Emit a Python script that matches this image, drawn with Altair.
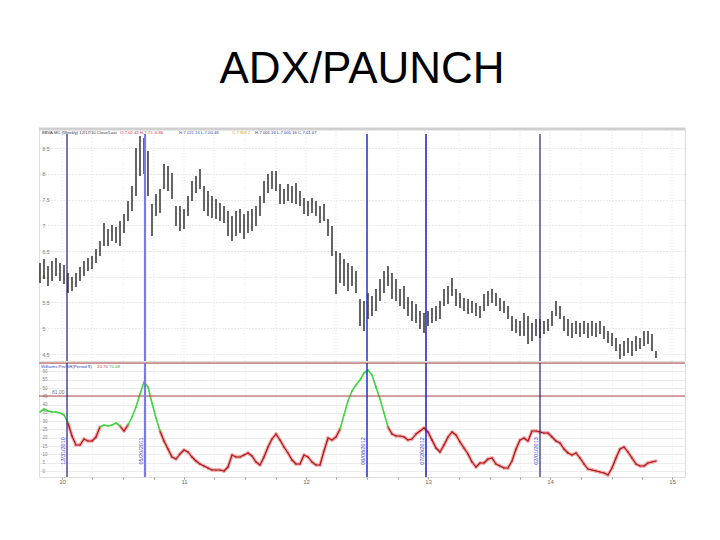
import altair as alt
import pandas as pd

# ---------------- data ----------------
# weekly bars, index 0..154 ; price in chart units
high = [91, 95, 88, 93, 96, 91, 89, 81, 77, 81, 87, 93, 96, 98, 105, 113, 131, 125, 129, 127,
        133, 140, 153, 168, 206, 218, 216, 203, 150, 160, 165, 190, 188, 181, 148, 148, 145, 158, 173, 178,
        185, 168, 163, 158, 155, 151, 148, 143, 138, 143, 145, 140, 143, 145, 148, 158, 173, 180, 183, 183,
        170, 165, 170, 168, 171, 163, 156, 153, 156, 153, 148, 150, 135, 128, 103, 101, 95, 91, 88, 83,
        55, 53, 61, 58, 65, 75, 83, 88, 81, 75, 65, 68, 57, 53, 50, 43, 41, 43, 46, 48,
        53, 65, 68, 76, 65, 61, 56, 55, 53, 51, 48, 60, 63, 65, 61, 56, 53, 48, 38, 35,
        33, 41, 38, 31, 35, 35, 33, 35, 43, 53, 48, 38, 35, 31, 33, 31, 33, 31, 33, 31,
        33, 28, 23, 21, 16, 10, 13, 16, 13, 18, 16, 23, 23, 20, 3]
low = [71, 75, 68, 73, 78, 73, 70, 61, 63, 67, 73, 78, 83, 85, 91, 98, 108, 108, 113, 111,
       108, 121, 133, 143, 158, 178, 180, 158, 118, 138, 141, 165, 163, 155, 128, 123, 125, 138, 153, 161,
       165, 143, 138, 136, 135, 133, 131, 118, 113, 118, 121, 115, 121, 123, 128, 138, 151, 161, 165, 163,
       150, 150, 153, 151, 150, 148, 140, 138, 141, 138, 131, 133, 118, 98, 60, 71, 68, 63, 68, 61,
       28, 23, 35, 38, 43, 53, 61, 68, 55, 53, 48, 45, 38, 33, 31, 25, 21, 28, 31, 33,
       35, 48, 50, 58, 48, 46, 43, 40, 41, 38, 36, 43, 48, 51, 48, 43, 41, 35, 23, 21,
       18, 18, 10, 13, 18, 16, 20, 23, 28, 38, 35, 23, 18, 16, 20, 17, 20, 16, 18, 17,
       20, 15, 11, 8, 3, -5, -2, 1, -2, 3, 5, 8, 10, 3, -4]
# indicator line (lower panel)
indicator = [65, 68, 66, 65, 65, 64, 62, 54, 41, 32, 32, 38, 36, 36, 40, 50, 52, 51, 52, 54,
             51, 46, 52, 60, 70, 83, 95, 90, 74, 59, 46, 36, 28, 20, 18, 23, 27, 25, 20, 16,
             13, 11, 9, 7, 7, 7, 6, 10, 22, 20, 20, 22, 24, 21, 15, 12, 20, 30, 38, 43,
             37, 30, 24, 17, 13, 13, 22, 20, 15, 12, 12, 26, 39, 37, 40, 48, 62, 76, 86, 92,
             97, 104, 107, 102, 90, 78, 64, 50, 43, 41, 41, 40, 37, 38, 43, 46, 49, 45, 37, 29,
             25, 32, 40, 45, 42, 35, 29, 23, 15, 10, 14, 14, 18, 19, 13, 11, 9, 9, 16, 28,
             37, 39, 36, 46, 46, 45, 44, 44, 40, 36, 34, 28, 24, 22, 24, 19, 13, 8, 7, 6,
             5, 4, 2, 9, 19, 28, 30, 25, 19, 13, 11, 11, 14, 15, 16]
threshold = 50

event_bars = [6.75, 26.25, 81.75, 96.5, 125]
event_colors = ["#1c1c80", "#7a7ae6", "#2a3fd0", "#2a2aba", "#22227a"]
event_widths = [1.2, 2.2, 1.6, 1.6, 1.2]
event_dates = ["12/31/2010", "05/20/2011", "06/08/2012", "07/20/2012", "02/01/2013"]

price_grid = [0, 25.75, 51.5, 77.25, 103, 128.75, 154.5, 180.25, 206]
price_labels = ["4.5", "5", "5.5", "6", "6.5", "7", "7.5", "8", "8.5"]

ind_grid = [6, 14.3, 22.6, 30.9, 39.2, 47.5, 55.8, 64.1, 72.4, 80.7, 89, 97.3, 105.6]
ind_labels = ["0", "5", "10", "15", "20", "25", "30", "35", "40", "45", "50", "55", "60"]
hlines = [81, 114]

x_ticks = [5.5, 13, 20.75, 28.5, 36, 43.5, 51.25, 59, 66.5, 74, 81.75, 89.5, 97,
           104.75, 112.5, 120, 127.5, 135.25, 143, 150.5, 158]
x_major = [5.5, 36, 66.5, 97, 127.5, 158]
x_major_labels = ["10", "11", "12", "13", "14", "15"]

top_header = ["BBVA.MC (Weekly) 12/17/10 Close/Last", "O-7.02.43  H-7.7  L-6.86",
              "H-7.021.16  L-7.00.48", "C-7.963.2", "H-7.001.16  L-7.001.16  C-7.01.07"]
top_header_colors = ["#333333", "#d03030", "#3050b0", "#e0a000", "#303080"]
low_header = ["Williams Pro%R(Period 9)", "20.70", "70.08"]
low_header_colors = ["#2a3fc0", "#d03030", "#40a040"]

# ---------------- tables ----------------
bars = pd.DataFrame({"i": range(len(high)), "high": high, "low": low})
n = len(indicator)
seg = pd.DataFrame({"i": list(range(n - 1)), "i2": list(range(1, n)),
                    "v": indicator[:-1], "v2": indicator[1:]})
seg["up"] = (seg["v"] + seg["v2"]) / 2 > threshold
seg_up = seg[seg["up"]]
seg_dn = seg[~seg["up"]]
events = pd.DataFrame({"i": event_bars, "c": event_colors, "w": event_widths, "d": event_dates})
hl = pd.DataFrame({"v": hlines})
gridx = pd.DataFrame({"i": x_ticks})
one = pd.DataFrame({"k": [0]})


def label_expr(vals, labels):
    return " : ".join(f"abs(datum.value - {v}) < 0.01 ? '{l}'" for v, l in zip(vals, labels)) + " : ''"


W = 646
FONT = "Liberation Sans"
xs = alt.Scale(domain=[-0.25, 161.25], nice=False, zero=False)
ys_top = alt.Scale(domain=[-7, 226], nice=False, zero=False)
ys_low = alt.Scale(domain=[0, 114], nice=False, zero=False)

ay_top = alt.Axis(values=price_grid, labelExpr=label_expr(price_grid, price_labels),
                  labelFontSize=5, labelColor="#777777", labelAlign="left", labelOverlap=False,
                  labelPadding=-3, ticks=False, domain=False, grid=True,
                  gridColor="#d4d4d4", gridDash=[1, 2], minExtent=0, title=None)
ax_low = alt.Axis(values=x_ticks, labelExpr=label_expr(x_major, x_major_labels),
                  labelFontSize=6, labelColor="#666666", tickSize=2, labelOverlap=False,
                  tickColor="#999999", domain=False, grid=True,
                  gridColor="#e8e8e8", gridDash=[1, 2], labelPadding=-1, title=None)
ay_low = alt.Axis(values=ind_grid, labelExpr=label_expr(ind_grid, ind_labels),
                  labelFontSize=4.5, labelColor="#888888", labelAlign="left", labelOverlap=False,
                  labelPadding=-3, ticks=False, domain=False, grid=True,
                  gridColor="#ececec", minExtent=0, title=None)

# ---------- top panel ----------
vgrid = alt.Chart(gridx).mark_rule(color="#e4e4e4", strokeDash=[1, 2]).encode(
    x=alt.X("i:Q", scale=xs, axis=None),
    y=alt.YDatum(-7, scale=ys_top, axis=ay_top), y2=alt.Y2Datum(226))
price_bars = alt.Chart(bars).mark_rule(color="#111111", strokeWidth=1.3).encode(
    x=alt.X("i:Q", scale=xs, axis=None),
    y=alt.Y("low:Q", scale=ys_top, axis=ay_top),
    y2="high:Q",
)
ev_top = alt.Chart(events).mark_rule().encode(
    x=alt.X("i:Q", scale=xs, axis=None),
    y=alt.YDatum(-7, scale=ys_top, axis=ay_top),
    y2=alt.Y2Datum(220),
    color=alt.Color("c:N", scale=None),
    strokeWidth=alt.StrokeWidth("w:Q", scale=None),
)
top_border = alt.Chart(one).mark_rule(color="#cfcfcf", strokeWidth=3).encode(
    x=alt.value(0), x2=alt.value(W), y=alt.value(1)
)
hdr_x = [3, 81, 140, 193, 216]
top_texts = [
    alt.Chart(one).mark_text(text=t, fontSize=4.2, font=FONT, align="left", baseline="middle", color=c)
    .encode(x=alt.value(px), y=alt.value(4.5))
    for t, c, px in zip(top_header, top_header_colors, hdr_x)
]
top = alt.layer(vgrid, price_bars, ev_top, top_border, *top_texts).properties(width=W, height=233)

# ---------- lower panel ----------
red_lines = alt.Chart(hl).mark_rule(color="#b04848", strokeWidth=1.2).encode(
    y=alt.Y("v:Q", scale=ys_low, axis=ay_low)
)
halo = alt.Chart(seg_dn).mark_rule(color="#f4a8a8", strokeWidth=3.5, strokeCap="round").encode(
    x=alt.X("i:Q", scale=xs, axis=ax_low), x2="i2:Q",
    y=alt.Y("v:Q", scale=ys_low, axis=ay_low), y2="v2:Q")
red_core = alt.Chart(seg_dn).mark_rule(color="#a81818", strokeWidth=1.2, strokeCap="round").encode(
    x=alt.X("i:Q", scale=xs, axis=ax_low), x2="i2:Q",
    y=alt.Y("v:Q", scale=ys_low, axis=ay_low), y2="v2:Q")
green = alt.Chart(seg_up).mark_rule(color="#3ed43e", strokeWidth=1.6, strokeCap="round").encode(
    x=alt.X("i:Q", scale=xs, axis=ax_low), x2="i2:Q",
    y=alt.Y("v:Q", scale=ys_low, axis=ay_low), y2="v2:Q")
ev_low = alt.Chart(events).mark_rule().encode(
    x=alt.X("i:Q", scale=xs, axis=ax_low),
    y=alt.YDatum(0, scale=ys_low, axis=ay_low), y2=alt.Y2Datum(114),
    color=alt.Color("c:N", scale=None),
    strokeWidth=alt.StrokeWidth("w:Q", scale=None),
)
ev_text = alt.Chart(events).mark_text(angle=270, fontSize=5.5, font=FONT, color="#3a3ad0",
                                      baseline="bottom", align="center", dy=-1).encode(
    x=alt.X("i:Q", scale=xs, axis=ax_low),
    y=alt.YDatum(26, scale=ys_low, axis=ay_low), text="d:N")
low_x = [2, 58, 70]
low_texts = [
    alt.Chart(one).mark_text(text=t, fontSize=4.4, font=FONT, align="left", baseline="middle", color=c)
    .encode(x=alt.value(px), y=alt.value(3.5))
    for t, c, px in zip(low_header, low_header_colors, low_x)
]
line_label = alt.Chart(hl).transform_filter("datum.v < 100").mark_text(
    fontSize=5, font=FONT, align="left", baseline="bottom", color="#777777", dy=-1, dx=13
).encode(x=alt.value(0), y=alt.Y("v:Q", scale=ys_low, axis=ay_low),
         text=alt.Text("v:Q", format=".2f"))

low = alt.layer(halo, red_core, green, red_lines, ev_low, ev_text, line_label, *low_texts).properties(
    width=W, height=114)

chart = alt.vconcat(top, low, spacing=-3).properties(
    title=alt.TitleParams("ADX/PAUNCH", fontSize=44, font=FONT, fontWeight="normal",
                          anchor="middle", offset=35, color="#000000"),
    padding={"left": 29, "top": 40, "right": 5, "bottom": 5},
).configure_view(stroke=None).configure(background="white")

chart.save("out.html", embed_options={"renderer": "svg", "actions": False})
